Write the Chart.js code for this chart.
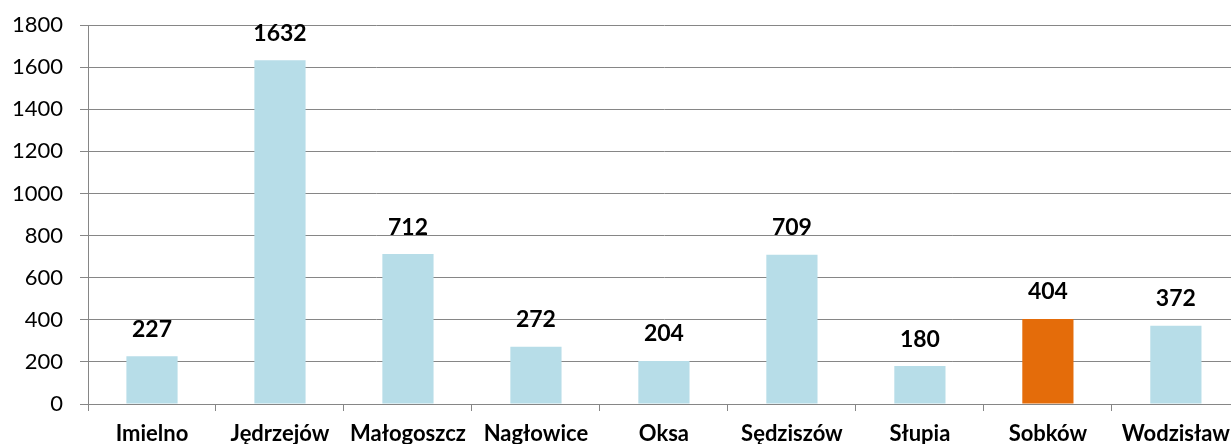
<!DOCTYPE html>
<html>
<head>
<meta charset="utf-8">
<script src="https://cdn.jsdelivr.net/npm/chart.js"></script>
<style>
  html, body { margin: 0; padding: 0; background: #fff; overflow: hidden; }
  .wrap { position: relative; width: 1240px; height: 444px; }
</style>
</head>
<body>
<div class="wrap">
  <canvas id="gminyChart"></canvas>
</div>
<script>
const categories = ['Imielno', 'Jędrzejów', 'Małogoszcz', 'Nagłowice', 'Oksa', 'Sędziszów', 'Słupia', 'Sobków', 'Wodzisław'];
const values = [227, 1632, 712, 272, 204, 709, 180, 404, 372];
const highlighted = 'Sobków';
const yTicks = [0, 200, 400, 600, 800, 1000, 1200, 1400, 1600, 1800];

const FONT = 'Lato, "Open Sans", sans-serif';
const GRID = '#868686';

// value labels above bars
const barLabels = {
  id: 'barLabels',
  afterDatasetsDraw(chart) {
    const ctx = chart.ctx;
    const meta = chart.getDatasetMeta(0);
    ctx.save();
    ctx.font = 'bold 23px ' + FONT;
    ctx.fillStyle = '#000';
    ctx.textAlign = 'center';
    ctx.textBaseline = 'middle';
    meta.data.forEach((bar, i) => {
      ctx.fillText(String(values[i]), bar.x, bar.y - 27);
    });
    ctx.restore();
  }
};

new Chart(document.getElementById('gminyChart'), {
  type: 'bar',
  data: {
    labels: categories,
    datasets: [{
      data: values,
      backgroundColor: categories.map(c => c === highlighted ? '#E46C0A' : '#B7DDE8'),
      barPercentage: 0.4,
      categoryPercentage: 1
    }]
  },
  options: {
    responsive: true,
    maintainAspectRatio: false,
    animation: false,
    layout: { padding: { top: 25, right: 0, left: 0, bottom: 0 } },
    plugins: {
      legend: { display: false },
      tooltip: { enabled: false }
    },
    scales: {
      x: {
        offset: true,
        grid: {
          offset: true,
          drawOnChartArea: false,
          drawTicks: true,
          tickLength: 7,
          color: GRID
        },
        border: { color: GRID, width: 1 },
        ticks: {
          color: '#000',
          padding: 10,
          maxRotation: 0,
          autoSkip: false,
          font: { family: FONT, size: 22, weight: 'bold' }
        },
        afterFit(scale) { scale.height = 40; }
      },
      y: {
        min: 0,
        max: 1800,
        afterBuildTicks(scale) { scale.ticks = yTicks.map(v => ({ value: v })); },
        grid: { color: GRID, tickLength: 8, lineWidth: 1 },
        border: { color: GRID, width: 1 },
        ticks: {
          color: '#000',
          padding: 17,
          font: { family: FONT, size: 22 },
          callback: v => String(v)
        },
        afterFit(scale) {
          scale.width = 88;
          // tick padding would otherwise push the plot top down
          scale.paddingTop = 0;
          scale.paddingBottom = 0;
        }
      }
    }
  },
  plugins: [barLabels]
});
</script>
</body>
</html>
